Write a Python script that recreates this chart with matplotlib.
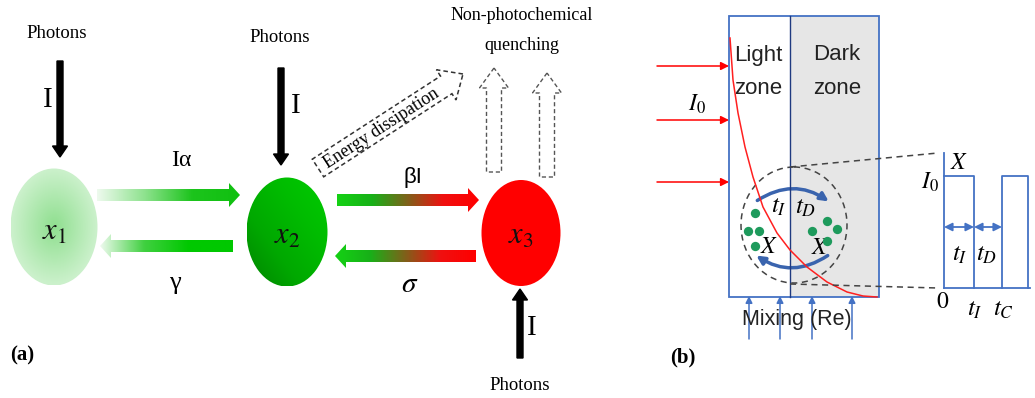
import numpy as np
import matplotlib
matplotlib.use('Agg')
import matplotlib.pyplot as plt
from matplotlib.patches import Ellipse, Polygon, FancyArrow, FancyArrowPatch, Rectangle
from matplotlib.colors import LinearSegmentedColormap, to_rgb

plt.rcParams['mathtext.fontset'] = 'stix'

# text content of the schematic
node_labels = ['$x_1$', '$x_2$', '$x_3$']
rate_labels = ['I\u03b1', '\u03b3', '\u03b2I', '$\\sigma$']
photon_label = 'Photons'
intensity_label = 'I'
npq_label = 'Non-photochemical\nquenching'
dissipation_label = 'Energy dissipation'
zone_labels = [('Light', 'zone'), ('Dark', 'zone')]
mixing_label = 'Mixing (Re)'
panel_labels = ['(a)', '(b)']

# light attenuation curve (pixel coords)
decay_x = [730, 733, 738, 745, 753, 763, 777, 790, 807, 827, 847, 863, 877]
decay_y = [38, 80, 113, 147, 177, 207, 233, 250, 267, 282, 292, 296, 297]

SERIF = 'Liberation Serif'
SANS = 'Liberation Sans'


def gradient_arrow(ax, x0, x1, y, colors, shaft=12, head_w=24, head_len=11):
    d = np.sign(x1 - x0)
    xb = x1 - d * head_len
    pts = [(x0, y - shaft / 2), (xb, y - shaft / 2), (xb, y - head_w / 2),
           (x1, y), (xb, y + head_w / 2), (xb, y + shaft / 2),
           (x0, y + shaft / 2)]
    poly = Polygon(pts, closed=True, fc='none', ec='none')
    ax.add_patch(poly)
    cmap = LinearSegmentedColormap.from_list('g', colors)
    grad = np.linspace(0, 1, 256)[None, :]
    if d < 0:
        grad = grad[:, ::-1]
    im = ax.imshow(grad, cmap=cmap, aspect='auto', origin='upper',
                   interpolation='bilinear',
                   extent=(min(x0, x1), max(x0, x1),
                           y + head_w / 2, y - head_w / 2))
    im.set_clip_path(poly)


def shaded_ellipse(ax, cx, cy, w, h, img):
    e = Ellipse((cx, cy), w, h, fc='none', ec='none')
    ax.add_patch(e)
    im = ax.imshow(img, aspect='auto', origin='upper', interpolation='bilinear',
                   extent=(cx - w / 2, cx + w / 2, cy + h / 2, cy - h / 2))
    im.set_clip_path(e)


fig = plt.figure(figsize=(10.35, 3.98), dpi=100)
ax = fig.add_axes([0, 0, 1, 1])
ax.axis('off')

# ---- panel (a) ----
yy, xx = np.mgrid[-1:1:120j, -1:1:120j]
r = np.clip(np.hypot(xx, yy), 0, 1)[..., None]
c0, c1 = np.array(to_rgb('#8fdf8f')), np.array(to_rgb('#ccf1cc'))
shaded_ellipse(ax, 54, 227, 87, 117, c0 + (c1 - c0) * r)

t = np.clip((xx - yy + 2) / 4, 0, 1)
cm2 = LinearSegmentedColormap.from_list('x2', ['#008400', '#00a800', '#00bc00', '#00cc00'])
shaded_ellipse(ax, 287, 232, 81, 109, cm2(t)[..., :3])

ax.add_patch(Ellipse((521, 233), 79, 106, fc='#ff0000', ec='none'))

for lab, (cx, cy) in zip(node_labels, [(54, 231), (287, 235), (521, 236)]):
    ax.text(cx, cy, lab, fontsize=22, ha='center', va='center', color='#111111')

gradient_arrow(ax, 97, 240, 195, ['#eefaee', '#8ee28e', '#1cc41c', '#10c010'])
gradient_arrow(ax, 233, 100, 246, ['#00c800', '#00c800', '#40d040', '#eefaee'])
gradient_arrow(ax, 337, 479, 200, ['#14d214', '#18b018', '#80601a', '#f01010', '#ff0000'])
gradient_arrow(ax, 476, 335, 256, ['#ff0000', '#f01010', '#80601a', '#18b018', '#14d214'])

ax.text(181, 160, rate_labels[0], fontsize=17, ha='center', va='center', family=SERIF)
ax.text(175, 283, rate_labels[1], fontsize=19, ha='center', va='center', family=SERIF)
ax.text(413, 178, rate_labels[2], fontsize=16, ha='center', va='center', family=SANS)
ax.text(410, 284, rate_labels[3], fontsize=21, ha='center', va='center')

# photon input arrows
for x, y0, y1 in [(60, 61, 157), (281, 68, 165), (520, 358, 289)]:
    ax.add_patch(FancyArrow(x, y0, 0, y1 - y0, width=6, head_width=15,
                            head_length=11, length_includes_head=True,
                            fc='black', ec='black'))
for x, y in [(48, 100), (296, 106), (532, 328)]:
    ax.text(x, y, intensity_label, fontsize=21, ha='center', va='center', family=SERIF)
for x, y in [(57, 33), (280, 37), (520, 385)]:
    ax.text(x, y, photon_label, fontsize=13.5, ha='center', va='center', family=SERIF)

# non-photochemical quenching arrows
for x, y0, y1 in [(494, 172, 68), (547, 177, 73)]:
    ax.add_patch(FancyArrow(x, y0, 0, y1 - y0, width=15, head_width=29,
                            head_length=20, length_includes_head=True,
                            fill=False, ls=(0, (3, 2)), ec='#555555', lw=1))
ax.text(522, 16, npq_label.split('\n')[0], fontsize=13, ha='center', va='center', family=SERIF)
ax.text(522, 45, npq_label.split('\n')[1], fontsize=13, ha='center', va='center', family=SERIF)

# energy dissipation arrow
tail = np.array([318, 168])
tip = np.array([463, 74])
ax.add_patch(FancyArrow(tail[0], tail[1], *(tip - tail), width=21, head_width=36,
                        head_length=20, length_includes_head=True, fill=False,
                        ls=(0, (3, 2)), ec='#333333', lw=1.1))
ang = np.degrees(np.arctan2(tail[1] - tip[1], tip[0] - tail[0]))
ax.text(381, 128, dissipation_label, fontsize=13, rotation=ang,
        rotation_mode='anchor', ha='center', va='center', family=SERIF)

ax.text(22, 355, panel_labels[0], fontsize=15, fontweight='bold', ha='center',
        va='center', family=SERIF)

# ---- panel (b) ----
blue = '#4472c4'
ax.add_patch(Rectangle((790, 16), 89, 281, fc='#e6e6e6', ec='none'))
ax.add_patch(Rectangle((729, 16), 150, 281, fc='none', ec=blue, lw=1.3))
ax.plot([790, 790], [16, 297], color='#1f3a80', lw=1)

for (l1, l2), cx in zip(zone_labels, [758, 837]):
    ax.text(cx, 55, l1, fontsize=16, ha='center', va='center', family=SANS, color='#222222')
    ax.text(cx, 89, l2, fontsize=16, ha='center', va='center', family=SANS, color='#222222')

for y in [66, 120, 182]:
    ax.annotate('', xy=(729, y), xytext=(657, y),
                arrowprops=dict(arrowstyle='-|>', color='#ff0000', lw=1.1,
                                mutation_scale=12, shrinkA=0, shrinkB=0))
ax.text(697, 104, '$I_0$', fontsize=17, ha='center', va='center')

ax.plot(decay_x, decay_y, color='#ff2020', lw=1.1)

# mixing circle
ax.add_patch(Ellipse((794, 225), 106, 116, fc='none', ec='#444444', lw=1.1,
                     ls=(0, (4, 3))))
ax.plot([790, 938], [167, 153], color='#444444', lw=1.1, ls=(0, (4, 3)))
ax.plot([790, 938], [284, 288], color='#444444', lw=1.1, ls=(0, (4, 3)))

ax.add_patch(FancyArrowPatch((755, 202), (831, 203), connectionstyle='arc3,rad=-0.35',
                             arrowstyle='-|>', mutation_scale=12, color='#3a64ae', lw=2.5))
ax.add_patch(FancyArrowPatch((830, 254), (754, 254), connectionstyle='arc3,rad=-0.35',
                             arrowstyle='-|>', mutation_scale=12, color='#3a64ae', lw=2.5))
ax.text(779, 206, '$t_I$', fontsize=18, ha='center', va='center')
ax.text(806, 207, '$t_D$', fontsize=18, ha='center', va='center')

dots_x = [755, 748, 759, 755, 827, 812, 837, 827]
dots_y = [213, 231, 231, 246, 221, 231, 229, 241]
ax.scatter(dots_x, dots_y, s=45, color='#1e9a5c', zorder=5, linewidths=0)
ax.text(769, 246, '$X$', fontsize=17, ha='center', va='center')
ax.text(820, 247, '$X$', fontsize=17, ha='center', va='center')

for x in [749, 780, 812, 852]:
    ax.annotate('', xy=(x, 296), xytext=(x, 339),
                arrowprops=dict(arrowstyle='-|>', color=blue, lw=1.1,
                                mutation_scale=10, shrinkA=0, shrinkB=0))
ax.text(797, 320, mixing_label, fontsize=15.5, ha='center', va='center',
        family=SANS, color='#222222')

# light/dark pulse sketch
ax.plot([944, 944], [153, 288], color=blue, lw=1.3)
ax.plot([944, 1030], [288, 288], color=blue, lw=1.3)
ax.plot([944, 974, 974], [176, 176, 288], color=blue, lw=1.3)
ax.plot([1002, 1002, 1028, 1028], [288, 176, 176, 288], color=blue, lw=1.3)
for xa, xb in [(944, 974), (974, 1002)]:
    ax.annotate('', xy=(xa, 227), xytext=(xb, 227),
                arrowprops=dict(arrowstyle='<|-|>', color=blue, lw=1.3,
                                mutation_scale=12, shrinkA=0, shrinkB=0))
ax.text(959, 162, '$X$', fontsize=17, ha='center', va='center')
ax.text(930, 182, '$I_0$', fontsize=17, ha='center', va='center')
ax.text(960, 254, '$t_I$', fontsize=18, ha='center', va='center')
ax.text(987, 254, '$t_D$', fontsize=18, ha='center', va='center')
ax.text(943, 301, '$0$', fontsize=17, ha='center', va='center')
ax.text(975, 309, '$t_I$', fontsize=18, ha='center', va='center')
ax.text(1004, 309, '$t_C$', fontsize=18, ha='center', va='center')

ax.text(683, 357, panel_labels[1], fontsize=15, fontweight='bold', ha='center',
        va='center', family=SERIF)

ax.set_xlim(0, 1035)
ax.set_ylim(398, 0)
fig.savefig('out.png', dpi=100)
